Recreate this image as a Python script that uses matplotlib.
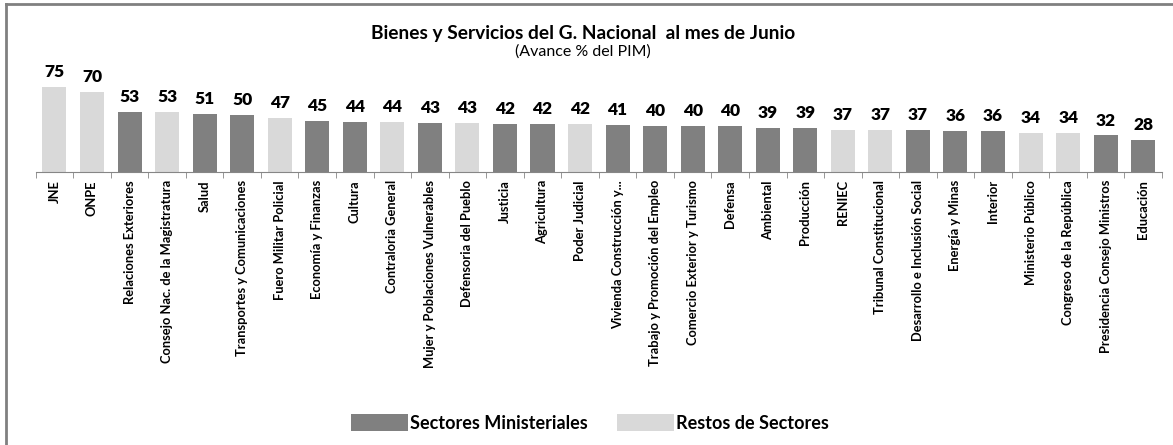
import matplotlib.pyplot as plt
from matplotlib.patches import Patch
from matplotlib.lines import Line2D

plt.rcParams['font.family'] = ['Lato', 'DejaVu Sans']

# Datos: avance % del PIM por sector
sectores = [
    "JNE", "ONPE", "Relaciones Exteriores", "Consejo Nac. de la Magistratura",
    "Salud", "Transportes y Comunicaciones", "Fuero Militar Policial",
    "Economía y Finanzas", "Cultura", "Contraloria General",
    "Mujer y Poblaciones Vulnerables", "Defensoria del Pueblo", "Justicia",
    "Agricultura", "Poder Judicial", "Vivienda Construcción y...",
    "Trabajo y Promoción del Empleo", "Comercio Exterior y Turismo", "Defensa",
    "Ambiental", "Producción", "RENIEC", "Tribunal Constitucional",
    "Desarrollo e Inclusión Social", "Energía y Minas", "Interior",
    "Ministerio Público", "Congreso de la República",
    "Presidencia Consejo Ministros", "Educación",
]
avance = [75, 70, 53, 53, 51, 50, 47, 45, 44, 44, 43, 43, 42, 42, 42,
          41, 40, 40, 40, 39, 39, 37, 37, 37, 36, 36, 34, 34, 32, 28]
# M = Sectores Ministeriales, R = Restos de Sectores
grupo = ["R", "R", "M", "R", "M", "M", "R", "M", "M", "R", "M", "R", "M",
         "M", "R", "M", "M", "M", "M", "M", "M", "R", "R", "M", "M", "M",
         "R", "R", "M", "M"]

colores = {"M": "#808080", "R": "#d9d9d9"}
nombres = {"M": "Sectores Ministeriales", "R": "Restos de Sectores"}

fig = plt.figure(figsize=(11.73, 4.45), dpi=100)
ax = fig.add_axes([0.0304, 0.614, 0.9602, 0.204])

x = range(len(sectores))
bars = ax.bar(x, avance, width=0.64, color=[colores[g] for g in grupo])

for b, v in zip(bars, avance):
    ax.annotate(f"{v}", (b.get_x() + b.get_width() / 2, v),
                xytext=(0, 5), textcoords="offset points",
                ha="center", va="bottom", fontsize=12.5, fontweight="heavy")

ax.set_xlim(-0.5, len(sectores) - 0.5)
ax.set_ylim(0, 80)
ax.set_yticks([])
for s in ["top", "right", "left"]:
    ax.spines[s].set_visible(False)
ax.spines["bottom"].set_color("#868686")

ax.set_xticks(list(x))
ax.set_xticklabels(sectores, rotation=90, fontsize=9.3, fontweight="bold")
ax.tick_params(axis="x", which="major", length=0, pad=6)
ax.set_xticks([i - 0.5 for i in range(len(sectores) + 1)], minor=True)
ax.tick_params(axis="x", which="minor", length=4, color="#868686")

fig.text(0.497, 0.925, "Bienes y Servicios del G. Nacional  al mes de Junio",
         ha="center", va="center", fontsize=13.8, fontweight="bold")
fig.text(0.497, 0.885, "(Avance % del PIM)", ha="center", va="center",
         fontsize=11.5)

handles = [Patch(facecolor=colores[k], label=nombres[k]) for k in ["M", "R"]]
fig.legend(handles=handles, loc="center", bbox_to_anchor=(0.503, 0.05),
           ncol=2, frameon=False, handlelength=3.15, handleheight=1.1,
           handletextpad=0.15, columnspacing=1.6,
           prop={"size": 13, "weight": "bold"})

# marco de la figura (solo borde superior e izquierdo visibles)
fig.add_artist(Line2D([0.005, 0.005], [0.0, 0.991], color="#808080", lw=2))
fig.add_artist(Line2D([0.005, 1.0], [0.991, 0.991], color="#808080", lw=2))

fig.savefig("out.png", dpi=100)
